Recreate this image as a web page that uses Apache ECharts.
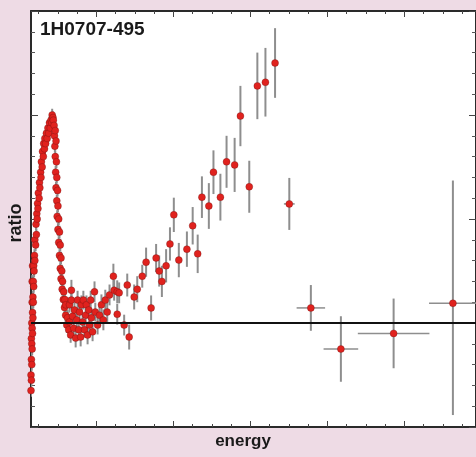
<!DOCTYPE html>
<html>
<head>
<meta charset="utf-8">
<script src="https://cdn.jsdelivr.net/npm/echarts@6/dist/echarts.min.js"></script>
<style>
html,body{margin:0;padding:0;background:#eedbe5;}
#c{width:476px;height:457px;}
</style>
</head>
<body>
<div id="c"></div>
<script>
// ---- data (energy keV, ratio, error) ----
const peakRise = [
 [0.30,0.87,0.012],[0.30,0.90,0.012],[0.31,0.89,0.012],[0.31,0.93,0.012],[0.31,0.97,0.012],
 [0.32,0.92,0.012],[0.32,0.96,0.012],[0.32,1.00,0.012],[0.33,0.95,0.012],[0.33,0.99,0.012],
 [0.33,1.04,0.012],[0.33,1.08,0.012],[0.34,0.98,0.012],[0.34,1.02,0.012],[0.34,1.11,0.012],
 [0.35,1.01,0.012],[0.35,1.05,0.012],[0.36,1.04,0.012],[0.36,1.08,0.012],[0.37,1.07,0.012],
 [0.37,1.11,0.012],[0.38,1.10,0.012],[0.39,1.13,0.012],[0.40,1.12,0.012],[0.40,1.16,0.012],
 [0.42,1.15,0.012],[0.43,1.19,0.012],[0.44,1.17,0.012],[0.45,1.21,0.012],[0.46,1.20,0.012],
 [0.47,1.23,0.012],[0.48,1.22,0.012],[0.49,1.25,0.012],[0.51,1.24,0.012],[0.52,1.27,0.012],
 [0.53,1.26,0.012],[0.55,1.29,0.012],[0.56,1.28,0.012],[0.57,1.31,0.012],[0.59,1.30,0.012],
 [0.60,1.33,0.012],[0.62,1.32,0.012],[0.63,1.345,0.012],[0.65,1.335,0.012],[0.66,1.355,0.012],
 [0.68,1.345,0.012],[0.70,1.365,0.012],[0.72,1.355,0.012],[0.74,1.375,0.012],[0.76,1.365,0.012],
 [0.78,1.385,0.012],[0.80,1.375,0.012],[0.82,1.39,0.012],[0.84,1.385,0.012],[0.85,1.40,0.012],
 [0.87,1.395,0.012]
];
const peakFall = [
 [0.88,1.39,0.012],[0.90,1.38,0.012],[0.91,1.36,0.012],[0.93,1.37,0.012],[0.92,1.34,0.012],
 [0.95,1.35,0.012],[0.93,1.32,0.012],[0.96,1.31,0.012],[0.94,1.29,0.012],[0.97,1.28,0.012],
 [0.95,1.26,0.012],[0.99,1.255,0.012],[0.97,1.235,0.012],[1.00,1.225,0.012],[0.98,1.205,0.012],
 [1.02,1.20,0.012],[1.00,1.18,0.012],[1.04,1.175,0.012],[1.02,1.155,0.012],[1.06,1.15,0.012],
 [1.04,1.13,0.012],[1.08,1.125,0.012],[1.06,1.105,0.012],[1.10,1.10,0.012],[1.08,1.085,0.012],
 [1.12,1.08,0.012],[1.11,1.065,0.012],[1.15,1.06,0.012],[1.14,1.045,0.012],[1.18,1.045,0.012],
 [1.17,1.03,0.012],[1.20,1.035,0.012]
];
const troughCluster = [
 [1.20,1.015,0.015],[1.23,0.996,0.015],[1.25,1.01,0.015],[1.28,0.987,0.015],[1.30,1.035,0.015],
 [1.30,1.002,0.015],[1.33,0.977,0.015],[1.35,1.044,0.018],[1.35,1.063,0.02],[1.38,1.013,0.015],
 [1.41,0.99,0.015],[1.43,1.025,0.015],[1.46,0.971,0.018],[1.49,1.006,0.015],[1.51,1.044,0.018],
 [1.54,0.987,0.015],[1.56,1.021,0.015],[1.59,0.973,0.018],[1.61,1.035,0.018],[1.64,1.002,0.015],
 [1.66,1.044,0.018],[1.69,0.987,0.015],[1.72,1.015,0.015],[1.74,1.035,0.018],[1.77,0.977,0.018],
 [1.80,1.025,0.018],[1.82,0.996,0.018],[1.85,1.044,0.018],[1.87,1.01,0.018],[1.90,0.983,0.018],
 [1.95,1.06,0.02],[1.97,1.021,0.018],[2.03,0.996,0.018],[2.08,1.015,0.018],[2.13,1.035,0.02],
 [2.18,1.006,0.02],[2.23,1.044,0.02],[2.28,1.021,0.02]
];
// energy, ratio, error up, error down, half bin width
const hardBins = [
 [2.34,1.054,0.02,0.02,0],[2.44,1.09,0.024,0.024,0],[2.46,1.063,0.02,0.02,0],
 [2.54,1.06,0.022,0.022,0],[2.54,1.017,0.02,0.02,0],[2.59,1.058,0.02,0.02,0],
 [2.72,0.996,0.02,0.02,0],[2.85,0.973,0.024,0.024,0],[2.80,1.073,0.022,0.022,0.08],
 [2.98,1.05,0.024,0.024,0],[3.06,1.065,0.025,0.025,0],[3.19,1.09,0.022,0.022,0],
 [3.29,1.117,0.028,0.028,0],[3.42,1.029,0.024,0.024,0],[3.55,1.125,0.027,0.027,0],
 [3.63,1.10,0.03,0.03,0],[3.70,1.08,0.03,0.03,0],[3.81,1.11,0.032,0.032,0],
 [3.91,1.152,0.032,0.032,0],[4.01,1.208,0.033,0.033,0],[4.14,1.121,0.033,0.033,0],
 [4.35,1.142,0.034,0.034,0],[4.50,1.187,0.036,0.036,0],[4.63,1.133,0.037,0.037,0],
 [4.74,1.242,0.04,0.04,0],[4.92,1.225,0.044,0.044,0],[5.04,1.29,0.042,0.042,0],
 [5.22,1.242,0.045,0.045,0],[5.38,1.31,0.05,0.05,0],[5.59,1.304,0.052,0.052,0],
 [5.74,1.398,0.058,0.058,0],[5.97,1.262,0.05,0.05,0],[6.18,1.456,0.064,0.064,0],
 [6.39,1.463,0.066,0.066,0],[6.64,1.50,0.067,0.067,0],[7.01,1.229,0.05,0.05,0.14],
 [7.57,1.029,0.044,0.044,0.37],[8.35,0.95,0.063,0.063,0.45],[9.72,0.98,0.067,0.067,0.93],
 [11.26,1.038,0.236,0.215,0.62]
];
const majorXTicks = [2,4,6,8,10];
const minorXTicks = [0.5,1,1.5,2.5,3,3.5,4.5,5,5.5,6.5,7,7.5,8.5,9,9.5,10.5,11,11.5];
const sourceName = '1H0707-495';
const xName = 'energy';
const yName = 'ratio';

// ---- build ----
const softAll = peakRise.concat(peakFall, troughCluster);
const errorData = softAll.map(d => [d[0], d[1], d[2], d[2], 0]).concat(hardBins);
const pointData = softAll.map(d => [d[0], d[1]]).concat(hardBins.map(d => [d[0], d[1]]));

const chart = echarts.init(document.getElementById('c'), null, {renderer:'canvas'});
const XMIN = 0.3, XMAX = 11.86;
const axisCol = '#2a2a2a';
function xAx(pos, ticks, len, line) {
  return {
    type:'value', min:XMIN, max:XMAX, position:pos, gridIndex:0,
    axisLine:{show:line, onZero:false, lineStyle:{color:axisCol, width:2}},
    axisTick:{show:true, inside:true, length:len, customValues:ticks, lineStyle:{color:'#444', width:1}},
    axisLabel:{show:false}, splitLine:{show:false}
  };
}
function yAx(pos) {
  return {
    type:'value', min:0.8, max:1.6, interval:0.2, position:pos,
    axisLine:{show:true, onZero:false, lineStyle:{color:axisCol, width:2}},
    axisTick:{show:true, inside:true, length:7, lineStyle:{color:'#444', width:1}},
    minorTick:{show:true, splitNumber:5, length:4, lineStyle:{color:'#555', width:1}},
    axisLabel:{show:false}, splitLine:{show:false}, minorSplitLine:{show:false}
  };
}
function errItem(params, api) {
  const x = api.value(0), y = api.value(1), up = api.value(2), dn = api.value(3), ex = api.value(4);
  const p0 = api.coord([x, y + up]), p1 = api.coord([x, y - dn]);
  const ch = [{type:'line', shape:{x1:p0[0], y1:p0[1], x2:p1[0], y2:p1[1]},
    style:{stroke:'#8e8e8e', lineWidth:2}}];
  if (ex > 0) {
    const q0 = api.coord([x - ex, y]), q1 = api.coord([x + ex, y]);
    ch.push({type:'line', shape:{x1:q0[0], y1:q0[1], x2:q1[0], y2:q1[1]},
      style:{stroke:'#8e8e8e', lineWidth:1.5}});
  }
  return {type:'group', children:ch};
}
chart.setOption({
  animation:false,
  backgroundColor:'#eedbe5',
  grid:{left:31, right:-3, top:11, bottom:30, show:true, backgroundColor:'#ffffff', borderWidth:0, containLabel:false},
  xAxis:[
    xAx('bottom', majorXTicks, 6, true),
    xAx('bottom', minorXTicks, 3, false),
    xAx('top', majorXTicks, 6, true),
    xAx('top', minorXTicks, 3, false)
  ],
  yAxis:[ yAx('left'), yAx('right') ],
  series:[
    {type:'custom', xAxisIndex:0, yAxisIndex:0, renderItem:errItem, data:errorData,
     encode:{x:0, y:1}, clip:true, silent:true, z:2},
    {type:'scatter', xAxisIndex:0, yAxisIndex:0, data:pointData, symbol:'circle', symbolSize:7,
     itemStyle:{color:'#e0221e', borderColor:'rgba(90,15,15,0.6)', borderWidth:0.5, opacity:1},
     silent:true, z:3,
     markLine:{silent:true, symbol:['none','none'], label:{show:false},
       lineStyle:{color:'#111', width:2, type:'solid'}, data:[{yAxis:1}], animation:false}}
  ],
  graphic:[
    {type:'text', left:40, top:20, style:{text:sourceName, font:'bold 19px "Liberation Sans", Arial, sans-serif', fill:'#1a1a1a'}, z:10},
    {type:'text', x:243, y:441, style:{text:xName, font:'bold 17px "Liberation Sans", Arial, sans-serif', fill:'#1a1a1a', align:'center', verticalAlign:'middle'}, z:10},
    {type:'text', x:16, y:223, rotation:Math.PI/2, style:{text:yName, font:'bold 18px "Liberation Sans", Arial, sans-serif', fill:'#1a1a1a', align:'center', verticalAlign:'middle'}, z:10}
  ]
});
</script>
</body>
</html>
